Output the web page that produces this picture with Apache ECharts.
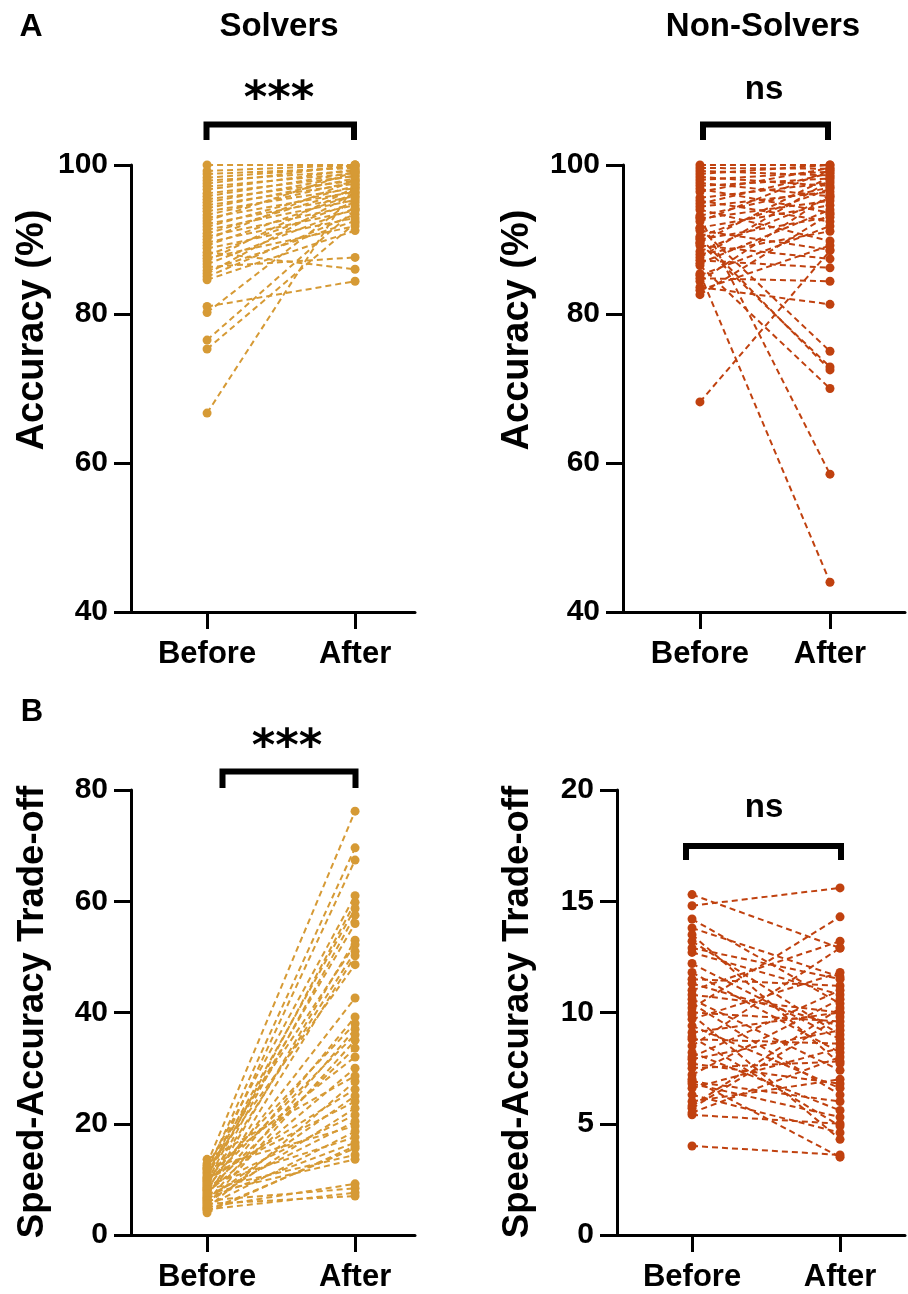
<!DOCTYPE html>
<html><head><meta charset="utf-8">
<script src="https://cdn.jsdelivr.net/npm/echarts@6/dist/echarts.min.js"></script>
<style>html,body{margin:0;padding:0;background:#fff}#c{width:908px;height:1294px}</style>
</head><body><div id="c"></div>
<script>
// ---------- data ----------
const categories = ['Before', 'After'];
// Panel A: Accuracy (%)
const solversAccBefore = [100, 99.2, 98.8, 98.3, 97.9, 97.5, 97.1, 96.7, 96.2, 95.8, 95.4, 95.0, 94.6, 94.2, 93.8, 93.3, 92.9, 92.5, 92.1, 91.7, 91.3, 90.8, 90.4, 90.0, 89.6, 89.2, 88.8, 88.3, 87.9, 87.5, 87.1, 86.7, 86.3, 85.8, 85.4, 85.0, 84.6, 81.0, 80.2, 76.5, 75.3, 66.7];
const solversAccAfter  = [100, 100, 99.6, 99.8, 99.2, 100, 98.9, 99.4, 98.5, 99.0, 97.9, 98.6, 97.5, 98.2, 96.9, 97.8, 96.4, 99.1, 95.8, 97.2, 95.3, 96.7, 94.6, 98.0, 93.9, 96.1, 92.9, 86.0, 95.0, 91.8, 97.0, 94.2, 87.6, 92.5, 96.3, 93.4, 91.2, 84.4, 95.6, 94.0, 92.2, 97.4];
const nonSolversAccBefore = [100, 99.6, 99.2, 98.8, 98.4, 98.0, 97.6, 97.2, 96.8, 96.4, 91.5, 95.6, 95.2, 94.8, 94.4, 94.0, 90.2, 93.2, 92.8, 92.4, 86.5, 91.6, 91.2, 85.4, 90.4, 90.0, 89.6, 89.2, 93.0, 88.4, 88.0, 87.6, 87.2, 86.8, 89.5, 85.2, 84.8, 84.4, 83.6, 83.2, 82.6, 68.2];
const nonSolversAccAfter  = [100, 99.5, 98.6, 100, 97.2, 99.1, 95.8, 98.2, 93.6, 99.6, 75.0, 97.6, 92.4, 98.9, 96.4, 89.8, 72.5, 97.0, 95.2, 99.3, 70.0, 94.6, 88.6, 44.0, 96.8, 93.0, 98.4, 87.4, 58.5, 95.6, 91.1, 97.9, 86.2, 94.0, 72.9, 91.8, 84.4, 96.0, 81.3, 89.2, 93.4, 88.5];
// Panel B: Speed-Accuracy Trade-off
const solversSatBefore = [12.8, 11.5, 10.2, 12.2, 9.6, 11.0, 8.8, 10.6, 7.9, 12.5, 9.2, 6.8, 11.8, 8.4, 7.2, 10.0, 6.0, 9.4, 5.4, 8.0, 11.2, 7.6, 4.8, 9.8, 6.4, 10.4, 5.8, 8.6, 7.0, 12.0, 5.2, 9.0, 6.6, 4.4, 8.2, 7.4, 5.0, 6.2, 4.6, 5.6, 13.6, 4.0];
const solversSatAfter  = [76.2, 69.6, 67.4, 61.0, 59.8, 58.7, 57.5, 56.0, 53.0, 52.2, 51.0, 50.2, 48.6, 42.6, 39.2, 38.0, 37.0, 36.0, 35.0, 33.6, 32.0, 30.0, 27.6, 26.2, 25.0, 24.0, 22.8, 21.6, 20.4, 19.6, 18.6, 17.6, 16.6, 15.6, 14.4, 13.6, 9.2, 8.4, 7.6, 7.0, 28.6, 16.0];
const nonSolversSatBefore = [15.3, 14.8, 14.2, 13.8, 13.2, 12.7, 11.8, 11.5, 11.0, 10.6, 10.2, 10.0, 9.7, 9.4, 9.1, 8.8, 8.5, 8.2, 7.9, 7.5, 7.2, 6.9, 6.6, 6.3, 6.0, 5.7, 5.4, 4.0, 12.2, 10.4, 9.9, 8.0, 7.0, 5.8, 13.5, 11.3, 6.8, 5.5, 8.9, 10.8, 7.7, 12.9];
const nonSolversSatAfter  = [12.9, 15.6, 10.4, 11.6, 9.0, 10.8, 8.2, 11.2, 13.2, 7.4, 14.3, 9.6, 11.8, 6.6, 10.0, 8.6, 12.9, 5.6, 9.2, 7.8, 10.6, 6.0, 8.4, 4.6, 7.0, 9.8, 5.0, 3.6, 8.8, 6.3, 4.3, 11.0, 3.5, 10.2, 7.7, 9.4, 5.3, 8.0, 4.9, 10.0, 6.8, 11.5];
const accTicks = [40, 60, 80, 100];
const satSolverTicks = [0, 20, 40, 60, 80];
const satNonSolverTicks = [0, 5, 10, 15, 20];

// ---------- styling ----------
const GOLD = '#D69A35';
const RUST = '#C0410F';
const FONT = '"Liberation Sans", Arial, sans-serif';

const panels = [
  {before: solversAccBefore, after: solversAccAfter, color: GOLD, grid: {left: 131, top: 165, width: 284, height: 447}, xmin: -0.514, xmax: 1.405, ticks: accTicks},
  {before: nonSolversAccBefore, after: nonSolversAccAfter, color: RUST, grid: {left: 623, top: 165, width: 282, height: 447}, xmin: -0.592, xmax: 1.577, ticks: accTicks},
  {before: solversSatBefore, after: solversSatAfter, color: GOLD, grid: {left: 131, top: 790, width: 284, height: 445}, xmin: -0.514, xmax: 1.405, ticks: satSolverTicks},
  {before: nonSolversSatBefore, after: nonSolversSatAfter, color: RUST, grid: {left: 617, top: 790, width: 288, height: 445}, xmin: -0.507, xmax: 1.439, ticks: satNonSolverTicks}
];

const grids = [], xAxes = [], yAxes = [], series = [];
panels.forEach((p, k) => {
  grids.push(Object.assign({containLabel: false}, p.grid));
  xAxes.push({
    type: 'value', gridIndex: k, min: p.xmin, max: p.xmax,
    splitLine: {show: false},
    axisLine: {show: true, onZero: false, lineStyle: {color: '#000', width: 3}},
    axisTick: {show: true, customValues: [0, 1], length: 17, lineStyle: {color: '#000', width: 3}},
    axisLabel: {show: true, customValues: [0, 1], formatter: v => categories[Math.round(v)],
      color: '#000', fontSize: 31, fontWeight: 'bold', fontFamily: FONT, margin: 27}
  });
  const t = p.ticks;
  yAxes.push({
    type: 'value', gridIndex: k, min: t[0], max: t[t.length - 1], interval: t[1] - t[0],
    splitLine: {show: false},
    axisLine: {show: true, onZero: false, lineStyle: {color: '#000', width: 3}},
    axisTick: {show: true, length: 17, lineStyle: {color: '#000', width: 3}},
    axisLabel: {color: '#000', fontSize: 30, fontWeight: 'bold', fontFamily: FONT, margin: 23}
  });
  p.before.forEach((b, i) => {
    series.push({
      type: 'line', xAxisIndex: k, yAxisIndex: k, silent: true, animation: false,
      data: [[0, b], [1, p.after[i]]],
      symbol: 'circle', symbolSize: 9,
      itemStyle: {color: p.color},
      lineStyle: {color: p.color, width: 2, type: [6, 4]}
    });
  });
});

function txt(x, y, s, size, rot, family) {
  return {type: 'text', x: x, y: y, rotation: rot || 0, z: 100,
    style: {text: s, fill: '#000', fontSize: size, fontWeight: 'bold', fontFamily: family || FONT,
      align: 'center', verticalAlign: 'middle', textAlign: 'center', textVerticalAlign: 'middle'}};
}
function bracket(x1, x2, y, yEnd) {
  return {type: 'polyline', z: 100, shape: {points: [[x1, yEnd], [x1, y], [x2, y], [x2, yEnd]]},
    style: {stroke: '#000', lineWidth: 6, fill: null, lineJoin: 'miter', lineCap: 'butt'}};
}

const graphic = [
  txt(31, 27, 'A', 32), txt(32, 712, 'B', 31),
  txt(279, 27, 'Solvers', 33), txt(763, 27, 'Non-Solvers', 33),
  txt(33, 330, 'Accuracy (%)', 38, Math.PI / 2), txt(518, 330, 'Accuracy (%)', 38, Math.PI / 2),
  txt(33, 1012, 'Speed-Accuracy Trade-off', 36.5, Math.PI / 2), txt(518, 1012, 'Speed-Accuracy Trade-off', 36.5, Math.PI / 2),
  bracket(206.5, 354, 124.5, 140), txt(279, 100, '***', 45, 0, '"DejaVu Sans", sans-serif'),
  bracket(703, 828, 124.5, 140), txt(764, 90, 'ns', 33),
  bracket(222.5, 355.5, 771.5, 788), txt(287, 748, '***', 45, 0, '"DejaVu Sans", sans-serif'),
  bracket(686, 841, 846, 860), txt(764, 808, 'ns', 33)
];

const chart = echarts.init(document.getElementById('c'), null, {renderer: 'canvas'});
chart.setOption({animation: false, backgroundColor: '#fff', grid: grids, xAxis: xAxes, yAxis: yAxes, series: series, graphic: graphic});
</script></body></html>
